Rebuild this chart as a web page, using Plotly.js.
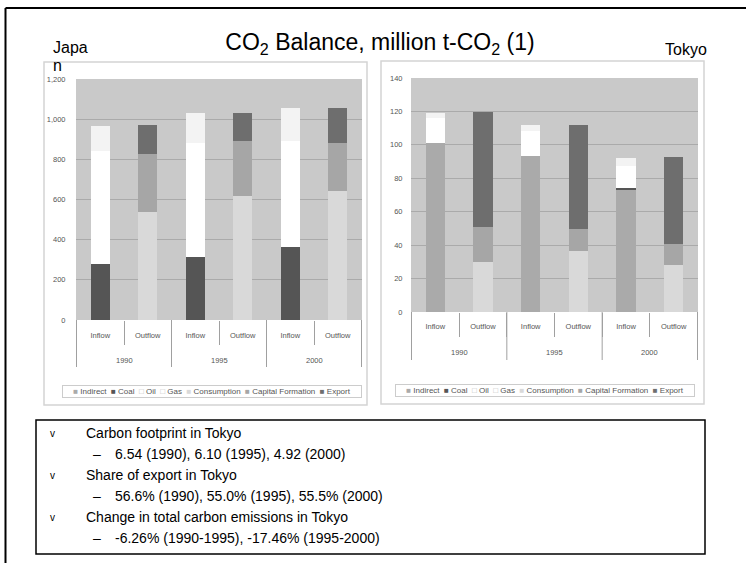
<!DOCTYPE html>
<html><head><meta charset="utf-8">
<script src="https://cdn.plot.ly/plotly-3.0.1.min.js"></script>
<style>html,body{margin:0;padding:0;background:#fff}#chart{width:746px;height:563px}</style>
</head><body><div id="chart"></div>
<script>
// ---------- data ----------
const years = ['1990', '1995', '2000'];
const flowLabels = ['Inflow', 'Outflow'];
const inflowSeries = ['Indirect', 'Coal', 'Oil', 'Gas'];
const outflowSeries = ['Consumption', 'Capital Formation', 'Export'];

const japanIndirect = [0, 0, 0];
const japanCoal = [277, 312, 365];
const japanOil = [566, 568, 528];
const japanGas = [123, 149, 163];
const japanConsumption = [540, 619, 641];
const japanCapital = [285, 272, 240];
const japanExport = [144, 141, 176];

const tokyoIndirect = [101.1, 93.3, 72.8];
const tokyoCoal = [0, 0, 1.2];
const tokyoOil = [14.9, 14.8, 13.1];
const tokyoGas = [3.0, 3.6, 5.0];
const tokyoConsumption = [30.1, 36.3, 28.1];
const tokyoCapital = [20.7, 13.6, 12.6];
const tokyoExport = [68.8, 62.0, 51.8];

const titleText = 'CO<sub>2</sub> Balance, million t-CO<sub>2</sub> (1)';
const panelLabels = ['Japa', 'n', 'Tokyo'];
const notes = [
  'Carbon footprint in Tokyo',
  '6.54 (1990), 6.10 (1995), 4.92 (2000)',
  'Share of export in Tokyo',
  '56.6% (1990), 55.0% (1995), 55.5% (2000)',
  'Change in total carbon emissions in Tokyo',
  '-6.26% (1990-1995), -17.46% (1995-2000)'
];

// ---------- styles ----------
const seriesColors = {
  'Indirect': '#aaaaaa', 'Coal': '#555555', 'Oil': '#ffffff', 'Gas': '#f3f3f3',
  'Consumption': '#d9d9d9', 'Capital Formation': '#a6a6a6', 'Export': '#6e6e6e'
};
const FONT = 'Liberation Sans, Arial, sans-serif';
const AXIS_GRAY = '#a0a0a0';
const W = 746, H = 563;
const px = x => x / W;
const py = y => 1 - y / H;

// category keys: one per (year, flow) bar
const catKey = (y, f) => y + ' ' + f;
const cats = years.flatMap(y => flowLabels.map(f => catKey(y, f)));
const catText = years.flatMap(() => flowLabels);

const traces = [];
function addChart(xa, ya, inVals, outVals) {
  inflowSeries.forEach((name, i) => {
    traces.push({
      type: 'bar', name: name, xaxis: xa, yaxis: ya, showlegend: false,
      x: years.map(y => catKey(y, flowLabels[0])), y: inVals[i],
      marker: {color: seriesColors[name], line: {width: 0}}
    });
  });
  outflowSeries.forEach((name, i) => {
    traces.push({
      type: 'bar', name: name, xaxis: xa, yaxis: ya, showlegend: false,
      x: years.map(y => catKey(y, flowLabels[1])), y: outVals[i],
      marker: {color: seriesColors[name], line: {width: 0}}
    });
  });
}
addChart('x', 'y', [japanIndirect, japanCoal, japanOil, japanGas], [japanConsumption, japanCapital, japanExport]);
addChart('x2', 'y2', [tokyoIndirect, tokyoCoal, tokyoOil, tokyoGas], [tokyoConsumption, tokyoCapital, tokyoExport]);

function xAxis(d0, d1, anchor, standoff) {
  return {
    domain: [px(d0), px(d1)], anchor: anchor, type: 'category',
    categoryorder: 'array', categoryarray: cats,
    tickmode: 'array', tickvals: cats, ticktext: catText,
    showgrid: false, zeroline: false, showline: false,
    ticks: 'outside', tickson: 'boundaries', ticklen: 24, tickcolor: AXIS_GRAY, tickwidth: 1,
    ticklabelstandoff: standoff,
    tickfont: {family: FONT, size: 7.5, color: '#555'}, fixedrange: true, automargin: false
  };
}
function yAxis(top, bottom, anchor, range, dtick, tl) {
  return {
    domain: [py(bottom), py(top)], anchor: anchor, range: range, dtick: dtick,
    tickformat: ',', gridcolor: '#aaaaaa', gridwidth: 1, zeroline: false, showline: false,
    ticks: 'outside', ticklen: tl, tickcolor: 'rgba(0,0,0,0)',
    tickfont: {family: FONT, size: 7.5, color: '#555'}, fixedrange: true, automargin: false
  };
}

const legendGlyph = name => (name === 'Oil' || name === 'Gas')
  ? '<span style="color:#b8b8b8">□</span>'
  : `<span style="color:${seriesColors[name]}">■</span>`;
const legendText = inflowSeries.concat(outflowSeries)
  .map(n => legendGlyph(n) + ' ' + n).join('  ');

const annotations = [];
const shapes = [];
// year group labels + group dividers (outer level of the category axis)
[['x', 320, 360, 367], ['x2', 312, 352, 360]].forEach(([xa, axisY, labelY, divEnd]) => {
  const groupSize = flowLabels.length;
  years.forEach((yr, i) => annotations.push({
    xref: xa, yref: 'paper', x: i * groupSize + (groupSize - 1) / 2, y: py(labelY),
    xanchor: 'center', yanchor: 'middle', showarrow: false, text: yr,
    font: {family: FONT, size: 7.5, color: '#555'}
  }));
  for (let i = 0; i <= years.length; i++) {
    const xb = i * groupSize - 0.5;
    shapes.push({type: 'line', xref: xa, yref: 'paper', x0: xb, x1: xb, y0: py(axisY), y1: py(divEnd),
      line: {color: AXIS_GRAY, width: 1}});
  }
});
// legends
[[212, 391], [545, 390]].forEach(p => annotations.push({
  xref: 'paper', yref: 'paper', x: px(p[0]), y: py(p[1]), xanchor: 'center', yanchor: 'middle',
  showarrow: false, text: legendText, width: 296, align: 'center',
  font: {family: FONT, size: 8, color: '#555'},
  bordercolor: '#cccccc', borderwidth: 1, borderpad: 1, bgcolor: '#ffffff'
}));
// panel labels
annotations.push({xref: 'paper', yref: 'paper', x: px(51), y: py(47), xanchor: 'left', yanchor: 'middle',
  showarrow: false, text: panelLabels[0], font: {family: FONT, size: 16, color: '#000'}});
annotations.push({xref: 'paper', yref: 'paper', x: px(51), y: py(65), xanchor: 'left', yanchor: 'middle',
  showarrow: false, text: panelLabels[1], font: {family: FONT, size: 16, color: '#000'}});
annotations.push({xref: 'paper', yref: 'paper', x: px(663), y: py(49), xanchor: 'left', yanchor: 'middle',
  showarrow: false, text: panelLabels[2], font: {family: FONT, size: 16, color: '#000'}});
// notes
notes.forEach((t, i) => {
  const y = 433 + i * 21;
  const sub = i % 2 === 1;
  annotations.push({xref: 'paper', yref: 'paper', x: px(sub ? 113 : 84), y: py(y), xanchor: 'left', yanchor: 'middle',
    showarrow: false, text: t, font: {family: FONT, size: 14, color: '#000'}});
  annotations.push({xref: 'paper', yref: 'paper', x: px(sub ? 91 : 48), y: py(y), xanchor: 'left', yanchor: 'middle',
    showarrow: false, text: sub ? '–' : 'v', font: {family: FONT, size: sub ? 14 : 10, color: '#000'}});
});

shapes.push(
  {type: 'line', xref: 'paper', yref: 'paper', x0: px(5.5), x1: 1, y0: py(8), y1: py(8), line: {color: '#000', width: 2}},
  {type: 'line', xref: 'paper', yref: 'paper', x0: px(5.5), x1: px(5.5), y0: py(8), y1: 0, line: {color: '#000', width: 2}},
  {type: 'rect', xref: 'paper', yref: 'paper', x0: px(44), x1: px(367), y0: py(62), y1: py(405), line: {color: '#d4d4d4', width: 1.5}},
  {type: 'rect', xref: 'paper', yref: 'paper', x0: px(381), x1: px(704), y0: py(61), y1: py(404), line: {color: '#d4d4d4', width: 1.5}},
  {type: 'rect', xref: 'paper', yref: 'paper', x0: px(36), x1: px(705), y0: py(420), y1: py(554), line: {color: '#000', width: 1.5}}
);

const layout = {
  width: W, height: H, margin: {l: 0, r: 0, t: 0, b: 0},
  paper_bgcolor: '#ffffff', plot_bgcolor: '#c9c9c9',
  barmode: 'stack', bargap: 0.59, showlegend: false,
  font: {family: FONT},
  title: {text: titleText, x: px(380), xanchor: 'center', y: py(42), yanchor: 'middle',
          font: {family: FONT, size: 23, color: '#000'}},
  xaxis: xAxis(76, 362, 'y', 9),
  yaxis: yAxis(79, 320, 'x', [0, 1200], 200, 8),
  xaxis2: xAxis(411, 698, 'y2', 8),
  yaxis2: yAxis(78, 312, 'x2', [0, 140], 20, 6),
  annotations: annotations, shapes: shapes
};

Plotly.newPlot('chart', traces, layout, {staticPlot: true, displayModeBar: false});
</script>
</body></html>
